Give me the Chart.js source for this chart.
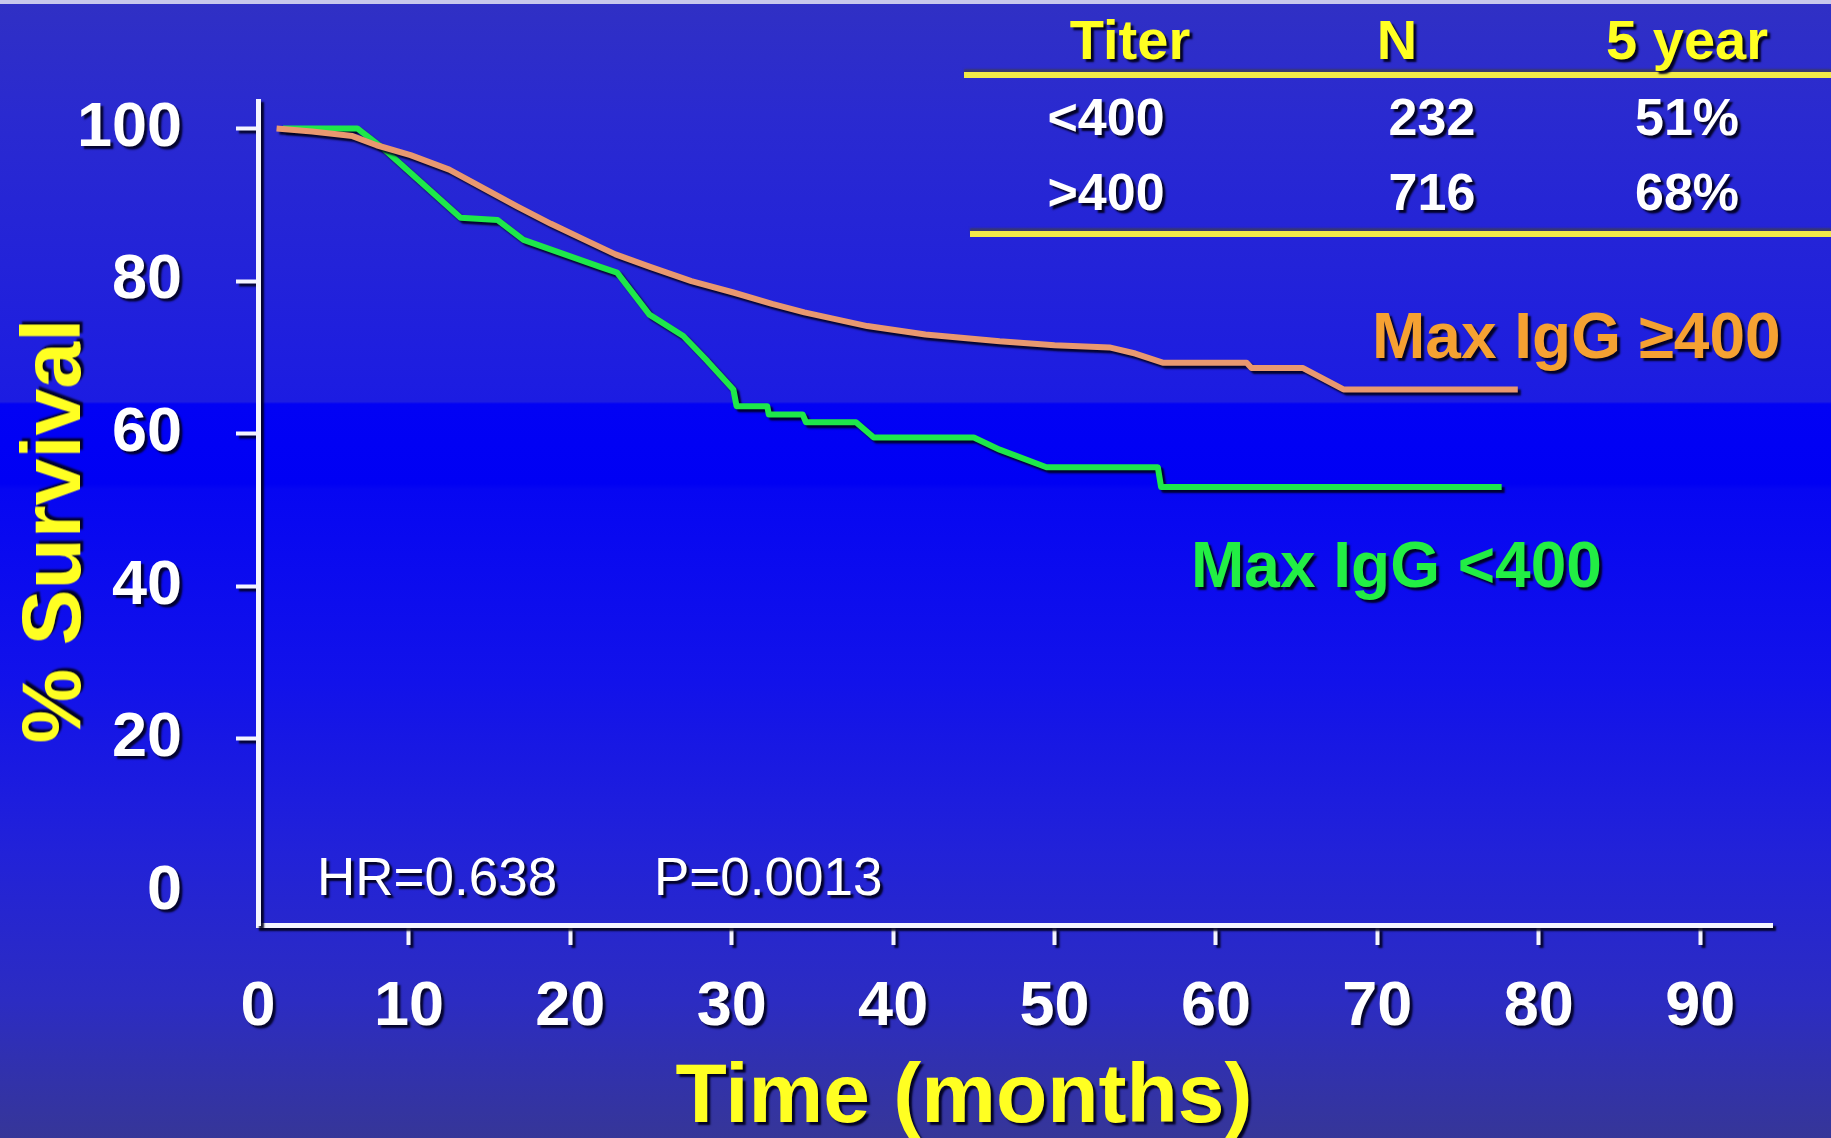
<!DOCTYPE html>
<html>
<head>
<meta charset="utf-8">
<script src="https://cdn.jsdelivr.net/npm/chart.js@4.4.1/dist/chart.umd.min.js"></script>
<style>
    html, body { margin: 0; padding: 0; }
    body {
        width: 1831px; height: 1138px; overflow: hidden; position: relative;
        font-family: "Liberation Sans", Arial, sans-serif;
        background: linear-gradient(to bottom,
            #3030c4 0%, #2a2ad0 10%, #2222da 25%, #1c1ce2 35.3%,
            #0202f4 35.5%, #0000f4 42.5%, #0606f2 43%, #1212ea 60%,
            #2222d8 75%, #2c2cc2 88%, #363698 100%);
    }
    #topline { position: absolute; left: 0; top: 0; width: 1831px; height: 4px; background: #c8c8ec; }
    #wrap { position: absolute; left: 0; top: 0; width: 1831px; height: 1138px; }
    .txt { position: absolute; line-height: 1; white-space: nowrap; text-shadow: 3px 3px 2px rgba(0, 0, 30, 0.95); }
    .bold { font-weight: bold; }
    .yellow { color: #ffff22; }
    .white { color: #ffffff; }
    .center { transform: translateX(-50%); }
    .rule { position: absolute; height: 6px; background: #f2ea48; box-shadow: 0 -3px 2px rgba(60, 60, 90, 0.8); }
</style>
</head>
<body>
<div id="topline"></div>
<div id="wrap"><canvas id="km"></canvas></div>

<!-- axis titles -->
<div class="txt bold yellow" style="font-size:84px; left:51px; top:531px; transform: translate(-50%, -50%) rotate(-90deg);">% Survival</div>
<div class="txt bold yellow center" style="font-size:84px; left:964px; top:1051px;">Time (months)</div>

<!-- table -->
<div class="rule" style="left:964px; top:72px; width:867px;"></div>
<div class="rule" style="left:970px; top:231px; width:861px;"></div>
<div id="table"></div>

<!-- curve labels and stats -->
<div class="txt bold" style="font-size:64px; left:1372px; top:304px; color:#f5a132;">Max IgG ≥400</div>
<div class="txt bold" style="font-size:64px; left:1191px; top:533px; color:#22ee44;">Max IgG &lt;400</div>
<div class="txt white" style="font-size:53px; left:317px; top:850px;">HR=0.638</div>
<div class="txt white" style="font-size:53px; left:654px; top:850px;">P=0.0013</div>

<script>
// survival curve, Max IgG >= 400 (months, % survival)
const highMonths   = [1.8, 4, 6.5, 8, 10.1, 12.5, 14.5, 16.7, 18.8, 20.8, 22.8, 24.9, 27.5, 30.1, 32.5, 34.5, 38.4, 42, 46.6, 50, 53.4, 55, 56.7, 61.9, 62.2, 65.4, 67.9, 78.7];
const highSurvival = [100, 99.6, 99, 97.8, 96.5, 94.6, 92.3, 89.8, 87.5, 85.5, 83.5, 81.9, 80.0, 78.5, 77, 75.9, 74.1, 73.0, 72.1, 71.6, 71.3, 70.5, 69.3, 69.3, 68.6, 68.6, 65.8, 65.8];

// survival curve, Max IgG < 400
const lowMonths   = [2.2, 6.8, 8.4, 13.2, 15.5, 17.1, 21.8, 22.9, 24.9, 27.0, 28.5, 30.1, 30.3, 32.2, 32.3, 34.4, 34.6, 37.7, 38.8, 45.0, 46.6, 49.5, 56.4, 56.6, 77.7];
const lowSurvival = [100, 100, 97.4, 88.3, 88.0, 85.4, 81.9, 81.1, 75.6, 72.8, 69.5, 65.8, 63.6, 63.6, 62.5, 62.5, 61.5, 61.5, 59.5, 59.5, 57.9, 55.6, 55.6, 53.0, 53.0];

// axis ticks
const xTicks = [0, 10, 20, 30, 40, 50, 60, 70, 80, 90];
const xTickLabels = ['0', '10', '20', '30', '40', '50', '60', '70', '80', '90'];
const yTicks = [0, 20, 40, 60, 80, 100];
const yTickLabels = ['0', '20', '40', '60', '80', '100'];

// inset table
const tableHeader = ['Titer', 'N', '5 year'];
const tableTiter = ['<400', '>400'];
const tableN = ['232', '716'];
const tableFiveYear = ['51%', '68%'];

// build the table as positioned text
const colCenters = [1106, 1432, 1687];
const headCenters = [1130, 1397, 1687];
const table = document.getElementById('table');
function addText(text, cls, size, left, top) {
    const d = document.createElement('div');
    d.className = 'txt bold center ' + cls;
    d.style.fontSize = size + 'px';
    d.style.left = left + 'px';
    d.style.top = top + 'px';
    d.textContent = text;
    table.appendChild(d);
}
tableHeader.forEach((h, i) => addText(h, 'yellow', 56, headCenters[i], 12));
[tableTiter, tableN, tableFiveYear].forEach((col, c) => {
    col.forEach((v, r) => addText(v, 'white', 52, colCenters[c], r === 0 ? 91 : 166));
});

const toPoints = (xs, ys) => xs.map((x, i) => ({ x: x, y: ys[i] }));
const FONT = '"Liberation Sans", Arial, sans-serif';
const AXIS = '#f4f4ff';

// dark drop shadow like the slide text
const shadowPlugin = {
    id: 'shadow',
    beforeDraw(chart) {
        const c = chart.ctx;
        c.save();
        c.shadowColor = 'rgba(0, 0, 30, 0.9)';
        c.shadowOffsetX = 3;
        c.shadowOffsetY = 3;
        c.shadowBlur = 2;
    },
    afterDraw(chart) {
        chart.ctx.restore();
    }
};

const ctx = document.getElementById('km').getContext('2d');
new Chart(ctx, {
    type: 'line',
    data: {
        datasets: [{
            label: 'Max IgG ≥400',
            data: toPoints(highMonths, highSurvival),
            borderColor: '#e99870',
            borderWidth: 6
        }, {
            label: 'Max IgG <400',
            data: toPoints(lowMonths, lowSurvival),
            borderColor: '#1ee84a',
            borderWidth: 6
        }]
    },
    options: {
        responsive: true,
        maintainAspectRatio: false,
        animation: false,
        layout: { padding: { top: 101, right: 59, left: 0, bottom: 0 } },
        plugins: { legend: { display: false }, tooltip: { enabled: false } },
        elements: {
            point: { radius: 0 },
            line: { tension: 0, borderJoinStyle: 'round', borderCapStyle: 'butt' }
        },
        scales: {
            x: {
                type: 'linear',
                min: 0.65,
                max: 94.45,
                afterBuildTicks: s => { s.ticks = xTicks.map(v => ({ value: Math.max(v, s.min) })); },
                afterFit: s => { s.height = 213; },
                ticks: {
                    color: '#ffffff',
                    font: { family: FONT, size: 63, weight: 'bold' },
                    padding: 25,
                    autoSkip: false,
                    maxRotation: 0,
                    callback: (v, i) => xTickLabels[i]
                },
                grid: {
                    drawOnChartArea: false,
                    tickLength: 20,
                    tickWidth: 4,
                    tickColor: c => c.index === 0 ? 'transparent' : AXIS
                },
                border: { display: true, color: AXIS, width: 5 }
            },
            y: {
                min: -4.4,
                max: 103.6,
                afterBuildTicks: s => { s.ticks = yTicks.map(v => ({ value: v })); },
                afterFit: s => { s.width = 258; },
                ticks: {
                    color: '#ffffff',
                    font: { family: FONT, size: 63, weight: 'bold' },
                    padding: 54,
                    autoSkip: false,
                    callback: (v, i) => yTickLabels[i]
                },
                grid: {
                    drawOnChartArea: false,
                    tickLength: 22,
                    tickWidth: 4,
                    tickColor: c => c.index === 0 ? 'transparent' : AXIS
                },
                border: { display: true, color: AXIS, width: 5 }
            }
        }
    },
    plugins: [shadowPlugin]
});
</script>
</body>
</html>
